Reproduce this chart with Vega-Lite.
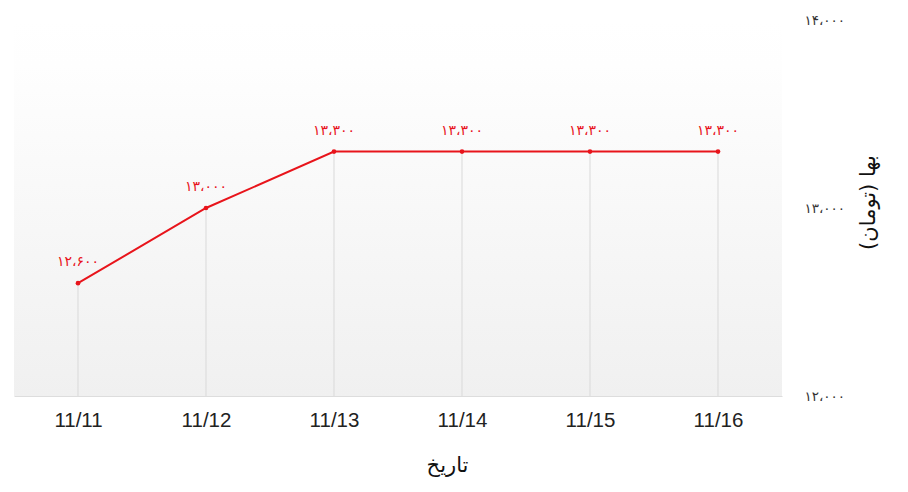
{
  "$schema": "https://vega.github.io/schema/vega-lite/v6.json",
  "width": 768,
  "height": 376,
  "autosize": {"type": "none"},
  "padding": {"left": 14, "top": 20, "right": 126, "bottom": 96},
  "background": "white",
  "config": {
    "view": {
      "stroke": null,
      "fill": {
        "gradient": "linear", "x1": 0, "y1": 0, "x2": 0, "y2": 1,
        "stops": [{"offset": 0, "color": "#ffffff"}, {"offset": 0.12, "color": "#fefefe"}, {"offset": 1, "color": "#f0f0f0"}]
      }
    }
  },
  "data": {
    "values": [
      {"date": "11/11", "price": 12600, "label": "۱۲،۶۰۰"},
      {"date": "11/12", "price": 13000, "label": "۱۳،۰۰۰"},
      {"date": "11/13", "price": 13300, "label": "۱۳،۳۰۰"},
      {"date": "11/14", "price": 13300, "label": "۱۳،۳۰۰"},
      {"date": "11/15", "price": 13300, "label": "۱۳،۳۰۰"},
      {"date": "11/16", "price": 13300, "label": "۱۳،۳۰۰"}
    ]
  },
  "encoding": {
    "x": {
      "field": "date", "type": "ordinal",
      "scale": {"type": "point", "padding": 0.5},
      "axis": {
        "title": "تاریخ", "labelAngle": 0, "ticks": false, "grid": false,
        "domainColor": "#dddddd", "labelFont": "Liberation Sans", "labelFontSize": 20.5,
        "labelColor": "#222222", "labelPadding": 14,
        "titleFont": "DejaVu Sans", "titleFontSize": 21, "titleFontWeight": "normal",
        "titleColor": "#111111", "titlePadding": 24, "titleX": 433
      }
    },
    "y": {
      "field": "price", "type": "quantitative",
      "scale": {"domain": [12000, 14000], "nice": false, "zero": false},
      "axis": {
        "orient": "right", "values": [12000, 13000, 14000],
        "labelExpr": "datum.value == 14000 ? '۱۴،۰۰۰' : datum.value == 13000 ? '۱۳،۰۰۰' : '۱۲،۰۰۰'",
        "domain": false, "ticks": false, "grid": false,
        "labelAlign": "left", "labelPadding": 22, "labelFont": "DejaVu Sans",
        "labelFontSize": 13.5, "labelColor": "#333333",
        "title": "بها (تومان)", "titleFont": "DejaVu Sans", "titleFontSize": 21,
        "titleAngle": 270, "titleBaseline": "middle", "titleY": 182,
        "titleFontWeight": "normal", "titleColor": "#111111", "titlePadding": 24
      }
    }
  },
  "layer": [
    {
      "mark": {"type": "rule", "color": "#d9d9d9", "strokeWidth": 1},
      "encoding": {"y2": {"datum": 12000}}
    },
    {
      "mark": {"type": "line", "color": "#e8141b", "strokeWidth": 2}
    },
    {
      "mark": {"type": "circle", "color": "#e8141b", "size": 22, "opacity": 1}
    },
    {
      "mark": {"type": "text", "dy": -21, "color": "#e8141b", "font": "DejaVu Sans", "fontSize": 14},
      "encoding": {"text": {"field": "label"}}
    }
  ]
}
